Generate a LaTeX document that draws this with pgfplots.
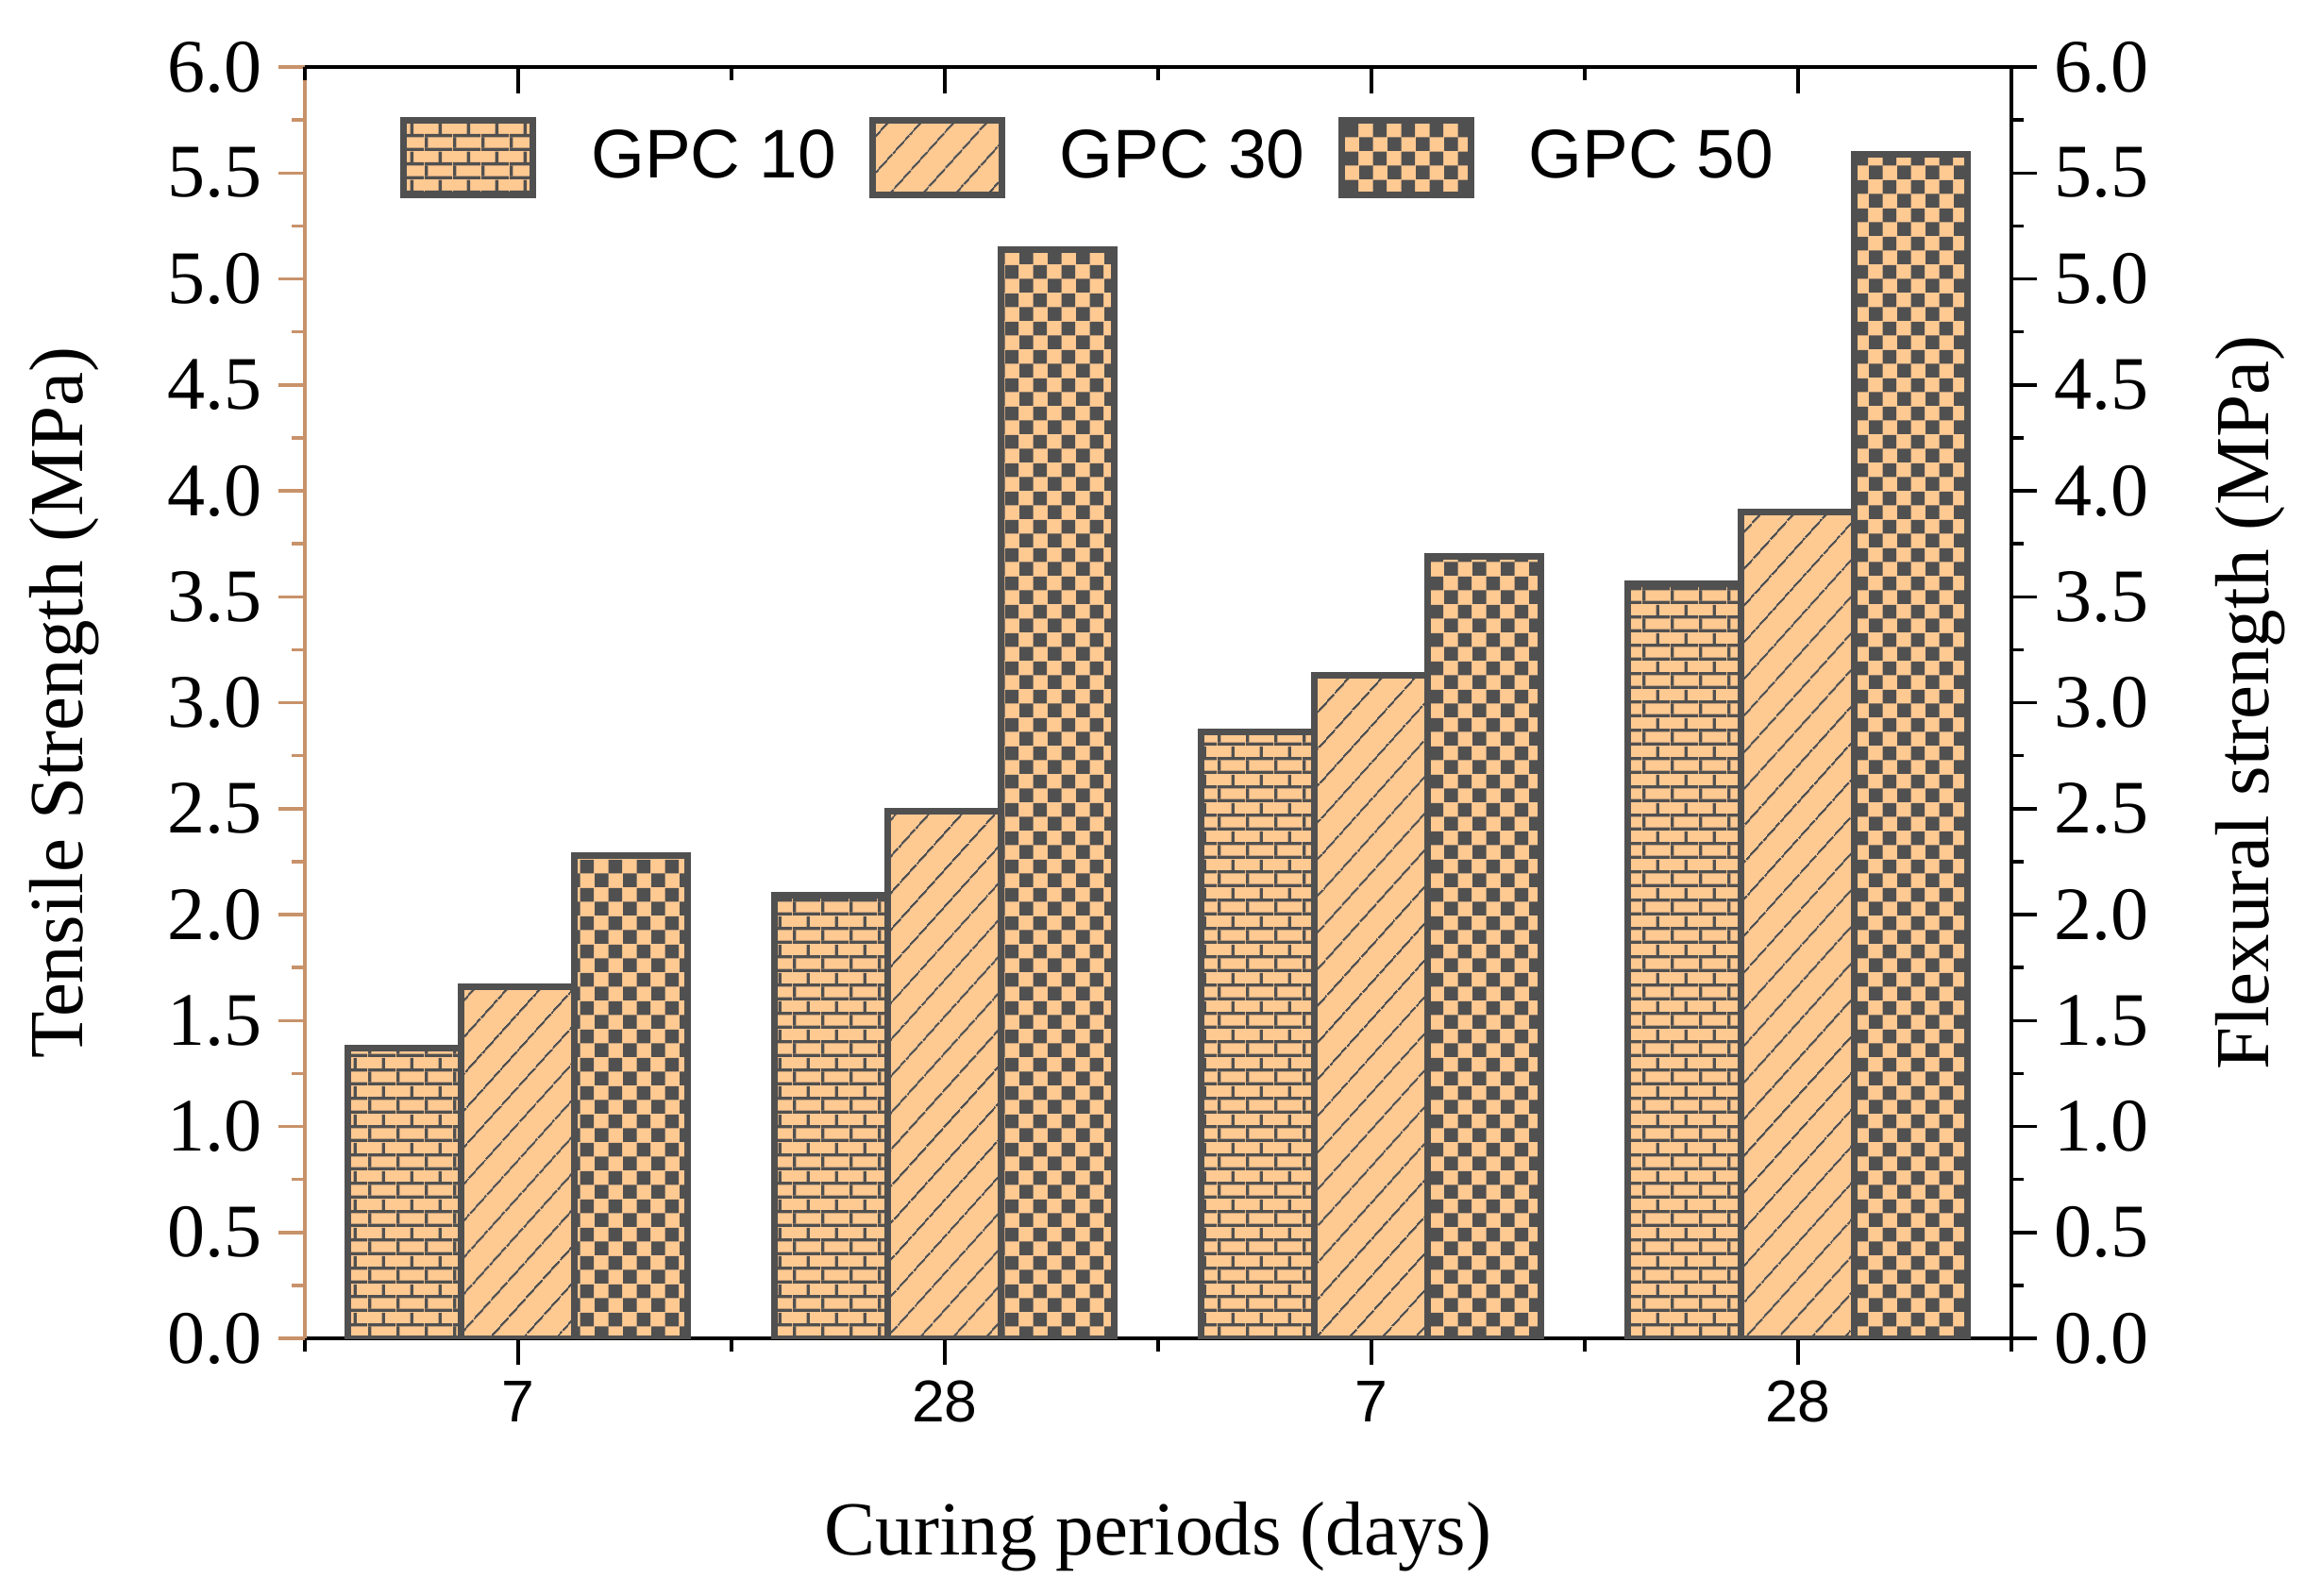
\documentclass[border=0pt]{standalone}
\usepackage{fontspec}
\setmainfont{Liberation Serif}
\newfontfamily\arialf{Liberation Sans}
\usepackage{pgfplots}
\pgfplotsset{compat=1.18}
\usetikzlibrary{patterns,patterns.meta}
\definecolor{peach}{RGB}{255,201,146}
\definecolor{dgray}{RGB}{80,80,80}
\definecolor{tanc}{RGB}{200,146,106}
\tikzdeclarepattern{
  name=brk, type=uncolored,
  bottom left={(0pt,0pt)}, top right={(6pt,6pt)}, tile size={(6pt,6pt)},
  code={
    \fill (0pt,0pt) rectangle (6pt,0.7pt);
    \fill (0pt,3pt) rectangle (6pt,3.7pt);
    \fill (0pt,0.7pt) rectangle (0.7pt,3pt);
    \fill (3pt,3.7pt) rectangle (3.7pt,6pt);
  }
}
\tikzdeclarepattern{
  name=chk, type=uncolored,
  bottom left={(0pt,0pt)}, top right={(6pt,6pt)}, tile size={(6pt,6pt)},
  code={
    \fill (0pt,0pt) rectangle (3pt,3pt);
    \fill (3pt,3pt) rectangle (6pt,6pt);
  }
}
\pgfplotsset{
  legbox/.style={legend image code/.code={\draw[##1] (0pt,-7.9pt) rectangle (27.4pt,7.9pt); \path (37pt,0pt);}},
  common/.style={
    scale only axis, width=361.6pt, height=269.4pt,
    at={(0,0)}, anchor=south west,
    xmin=-0.5, xmax=3.5, ymin=0, ymax=6,
    xtick={0,1,2,3},
    minor xtick={-0.5,0.5,1.5,2.5,3.5},
    ytick={0,0.5,1,1.5,2,2.5,3,3.5,4,4.5,5,5.5,6},
    minor ytick={0.25,0.75,1.25,1.75,2.25,2.75,3.25,3.75,4.25,4.75,5.25,5.75},
    major tick length=5.5pt, minor tick length=2.7pt,
    yticklabel style={font=\fontsize{16}{16}\selectfont, black},
    xticklabel style={font=\arialf\fontsize{12.5}{12.5}\selectfont, black},
    /pgf/number format/.cd, fixed, fixed zerofill, precision=1, assume math mode=true,
  },
}
\begin{document}
\begin{tikzpicture}
\begin{axis}[common,
  axis x line*=bottom, axis y line*=left,
  x axis line style={black, line width=0.7pt, -},
  y axis line style={tanc, line width=0.7pt, -},
  every outer x axis line/.append style={-},
  every outer y axis line/.append style={-},
  xtick align=outside, ytick align=outside,
  x tick style={black, line width=0.7pt},
  y tick style={tanc, line width=0.7pt},
  xticklabels={7,28,7,28},
  ybar=0pt, bar width=24pt,
  xlabel={Curing periods (days)},
  ylabel={Tensile Strength (MPa)},
  every axis x label/.style={at={(axis description cs:0.5,-0.156)}, anchor=center, font=\fontsize{16.2}{16.2}\selectfont},
  every axis y label/.style={at={(axis description cs:-0.141,0.5)}, rotate=90, anchor=center, font=\fontsize{16.2}{16.2}\selectfont},
  legend columns=3,
  legend style={draw=none, fill=none, inner sep=0pt, outer sep=0pt,
    at={(axis description cs:0.056,0.9287)}, anchor=west,
    font=\arialf\fontsize{14.6}{14.6}\selectfont,
    /tikz/every even column/.append style={column sep=5pt}},
]
\addplot[draw=dgray, line width=1.4pt, fill=peach, postaction={pattern=brk, pattern color=dgray}, legbox]
  coordinates {(0,1.37) (1,2.09) (2,2.86) (3,3.56)};
\addlegendentry{GPC 10}
\addplot[draw=dgray, line width=1.4pt, fill=peach, postaction={pattern={Lines[angle=48,distance=5.4pt,line width=0.45pt]}, pattern color=dgray}, legbox]
  coordinates {(0,1.66) (1,2.49) (2,3.13) (3,3.90)};
\addlegendentry{GPC 30}
\addplot[draw=dgray, line width=1.4pt, fill=peach, postaction={pattern=chk, pattern color=dgray}, legbox]
  coordinates {(0,2.28) (1,5.14) (2,3.69) (3,5.59)};
\addlegendentry{GPC 50}
\end{axis}
\begin{axis}[common,
  axis x line*=top, axis y line*=right,
  axis line style={black, line width=0.7pt, -},
  every outer x axis line/.append style={-},
  every outer y axis line/.append style={-},
  xtick align=inside, ytick align=outside,
  tick style={black, line width=0.7pt},
  xticklabels={},
  ylabel={Flexural strength (MPa)},
  every axis y label/.style={at={(axis description cs:1.14,0.5)}, rotate=90, anchor=center, font=\fontsize{16.2}{16.2}\selectfont},
]
\end{axis}
\pgfresetboundingbox
\useasboundingbox (-64.6pt,-54.4pt) rectangle (423.6pt,283.6pt);
\end{tikzpicture}
\end{document}
